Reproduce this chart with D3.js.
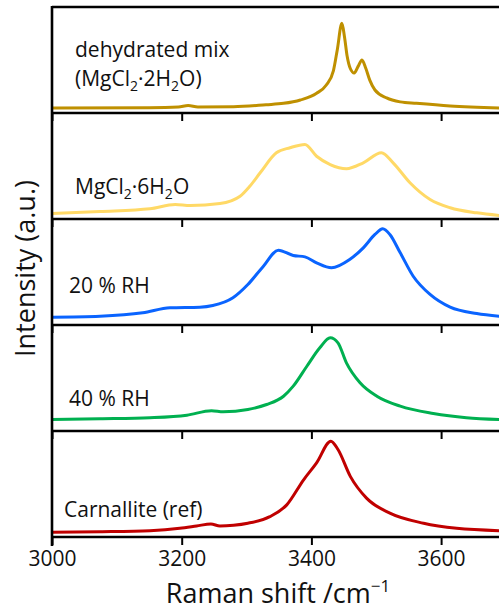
<!DOCTYPE html>
<html>
<head>
<meta charset="utf-8">
<script src="https://cdn.jsdelivr.net/npm/d3@7/dist/d3.min.js"></script>
<style>
  html, body { margin: 0; padding: 0; background: #fff; }
  svg { display: block; }
  text { font-family: "Open Sans", "Noto Sans", sans-serif; fill: #111; }
</style>
</head>
<body>
<script>
// Raman spectra in the O–H stretching region, one stacked panel per sample.
const sampleNames = ["dehydrated mix", "MgCl2·6H2O", "20 % RH", "40 % RH", "Carnallite (ref)"];
const sampleColors = ["#BF9000", "#FFD966", "#0A64FF", "#00B050", "#C00000"];

const xTicks = [3000, 3200, 3400, 3600];

// [Raman shift (cm⁻¹), intensity (a.u.)]
const dehydratedMix = [
  [3000, 4.7], [3150, 5.0], [3195, 5.6], [3210, 7.0], [3225, 5.6], [3280, 5.9],
  [3330, 7.8], [3357, 9.1], [3383, 12.3], [3408, 18.6], [3423, 26.4], [3434, 40],
  [3440, 60], [3447, 84.6], [3451, 72], [3455, 54], [3460, 42], [3466, 37.7],
  [3472, 44], [3478, 50], [3484, 42], [3490, 31], [3498, 21.7], [3516, 14.2],
  [3537, 10.5], [3562, 9.1], [3614, 6.6], [3690, 4.7]
];
const mgcl2Hexahydrate = [
  [3000, 5.2], [3074, 7.1], [3151, 9.6], [3190, 13.7], [3213, 12.7], [3259, 14.6],
  [3290, 21.5], [3305, 30.9], [3321, 43.6], [3346, 62.5], [3367, 67.2], [3390, 70.3],
  [3408, 59.2], [3429, 51.4], [3454, 47.4], [3480, 53], [3508, 62.5], [3526, 53],
  [3552, 34.2], [3583, 18.4], [3614, 10.6], [3655, 5.8], [3690, 3.3]
];
const rh20 = [
  [3000, 7.4], [3074, 8.3], [3140, 11.5], [3182, 16.2], [3228, 16.8], [3248, 18.4],
  [3279, 25.7], [3302, 38.2], [3326, 55.5], [3349, 70.6], [3372, 65.6], [3390, 64.3],
  [3408, 58.7], [3431, 54], [3459, 61.8], [3480, 72.8], [3498, 85.4], [3510, 90.8],
  [3521, 85.4], [3537, 68.1], [3557, 46], [3583, 28.8], [3614, 16.8], [3655, 10.8],
  [3690, 8.3]
];
const rh40 = [
  [3000, 10.8], [3074, 11.5], [3151, 12.5], [3208, 14.9], [3246, 19.1], [3264, 18.1],
  [3302, 20.3], [3331, 25], [3357, 32.8], [3372, 42.3], [3393, 61.1], [3413, 78.5],
  [3429, 87.9], [3441, 83.2], [3454, 64.3], [3475, 45.5], [3501, 32.8], [3537, 23.4],
  [3588, 16.5], [3639, 12.5], [3690, 10.8]
];
const carnallite = [
  [3000, 4.5], [3074, 5], [3151, 6], [3197, 8.2], [3223, 10.4], [3245, 12.3],
  [3259, 10.4], [3280, 11.1], [3302, 13], [3336, 19.2], [3362, 30.3], [3388, 54],
  [3408, 69.9], [3430, 90.3], [3441, 82.5], [3460, 57.2], [3485, 36.7], [3521, 22.5],
  [3573, 13], [3624, 8.2], [3690, 6]
];
const spectra = [dehydratedMix, mgcl2Hexahydrate, rh20, rh40, carnallite];

const W = 499, H = 611;
const margin = { left: 52, top: 7, right: 0, bottom: 74 };
const panelCount = spectra.length;
const panelH = (H - margin.top - margin.bottom) / panelCount;

const svg = d3.select("body").append("svg")
  .attr("width", W).attr("height", H);

const x = d3.scaleLinear().domain([3000, 3700]).range([margin.left, margin.left + 700 * 0.6485]);

// label placement inside each panel: [x offset from axis, baseline from panel top]
const labelPos = [[23, 50], [23, 81], [17, 74], [17, 81], [12, 86]];
const labelSize = 21, subSize = 14, subShift = 5;

// writes a formula label, lowering the "2" that follows Cl or H
function addLabel(g, txt, px, py) {
  const t = g.append("text").attr("x", px).attr("y", py).attr("font-size", labelSize);
  const parts = txt.split(/(?<=Cl|H)(2)/).filter(p => p.length);
  let lowered = false;
  parts.forEach(p => {
    const sub = p === "2";
    const s = t.append("tspan").text(p);
    if (sub) {
      s.attr("font-size", subSize).attr("dy", subShift);
      lowered = true;
    } else if (lowered) {
      s.attr("dy", -subShift);
      lowered = false;
    }
  });
  return t;
}

spectra.forEach((data, i) => {
  const top = margin.top + i * panelH;
  const bottom = top + panelH;
  const y = d3.scaleLinear().domain([0, 100]).range([bottom, top]);
  const g = svg.append("g");

  const line = d3.line()
    .x(d => x(d[0])).y(d => y(d[1]))
    .curve(d3.curveMonotoneX);

  g.append("path").datum(data)
    .attr("d", line)
    .attr("fill", "none")
    .attr("stroke", sampleColors[i])
    .attr("stroke-width", 3)
    .attr("stroke-linejoin", "round");

  // bottom edge of the panel with outward ticks
  const axis = d3.axisBottom(x).tickValues(xTicks).tickSize(8)
    .tickFormat(i === panelCount - 1 ? d3.format("d") : "");
  const ax = g.append("g").attr("transform", `translate(0,${bottom})`).call(axis);
  ax.select(".domain").attr("stroke", "#000").attr("stroke-width", 2.4)
    .attr("d", `M${margin.left},0H${W + 10}`);
  ax.selectAll(".tick line").attr("stroke", "#000").attr("stroke-width", 2);
  ax.selectAll(".tick text")
    .attr("font-size", 21).attr("font-family", "Open Sans").attr("fill", "#111")
    .attr("y", 14).attr("dy", "0.71em");

  if (i === 0) {
    g.append("line").attr("x1", margin.left).attr("x2", W + 10)
      .attr("y1", top).attr("y2", top).attr("stroke", "#000").attr("stroke-width", 2.4);
  }

  // sample label
  const lp = labelPos[i];
  if (i === 0) {
    g.append("text").attr("x", margin.left + lp[0]).attr("y", top + lp[1])
      .attr("font-size", labelSize).text(sampleNames[0]);
    addLabel(g, "(MgCl2·2H2O)", margin.left + lp[0], top + lp[1] + 29);
  } else {
    addLabel(g, sampleNames[i], margin.left + lp[0], top + lp[1]);
  }
});

// left axis line spanning all panels
svg.append("line")
  .attr("x1", margin.left).attr("x2", margin.left)
  .attr("y1", margin.top - 1).attr("y2", H - margin.bottom + 9)
  .attr("stroke", "#000").attr("stroke-width", 2.6);

// axis titles
const xt = svg.append("text").attr("x", 278).attr("y", 603)
  .attr("text-anchor", "middle").attr("font-size", 27);
xt.append("tspan").text("Raman shift /cm");
xt.append("tspan").attr("font-size", 17).attr("dy", -11).text("−1");

svg.append("text")
  .attr("transform", `translate(35,${268.5}) rotate(-90)`)
  .attr("text-anchor", "middle").attr("font-size", 27)
  .text("Intensity (a.u.)");
</script>
</body>
</html>
